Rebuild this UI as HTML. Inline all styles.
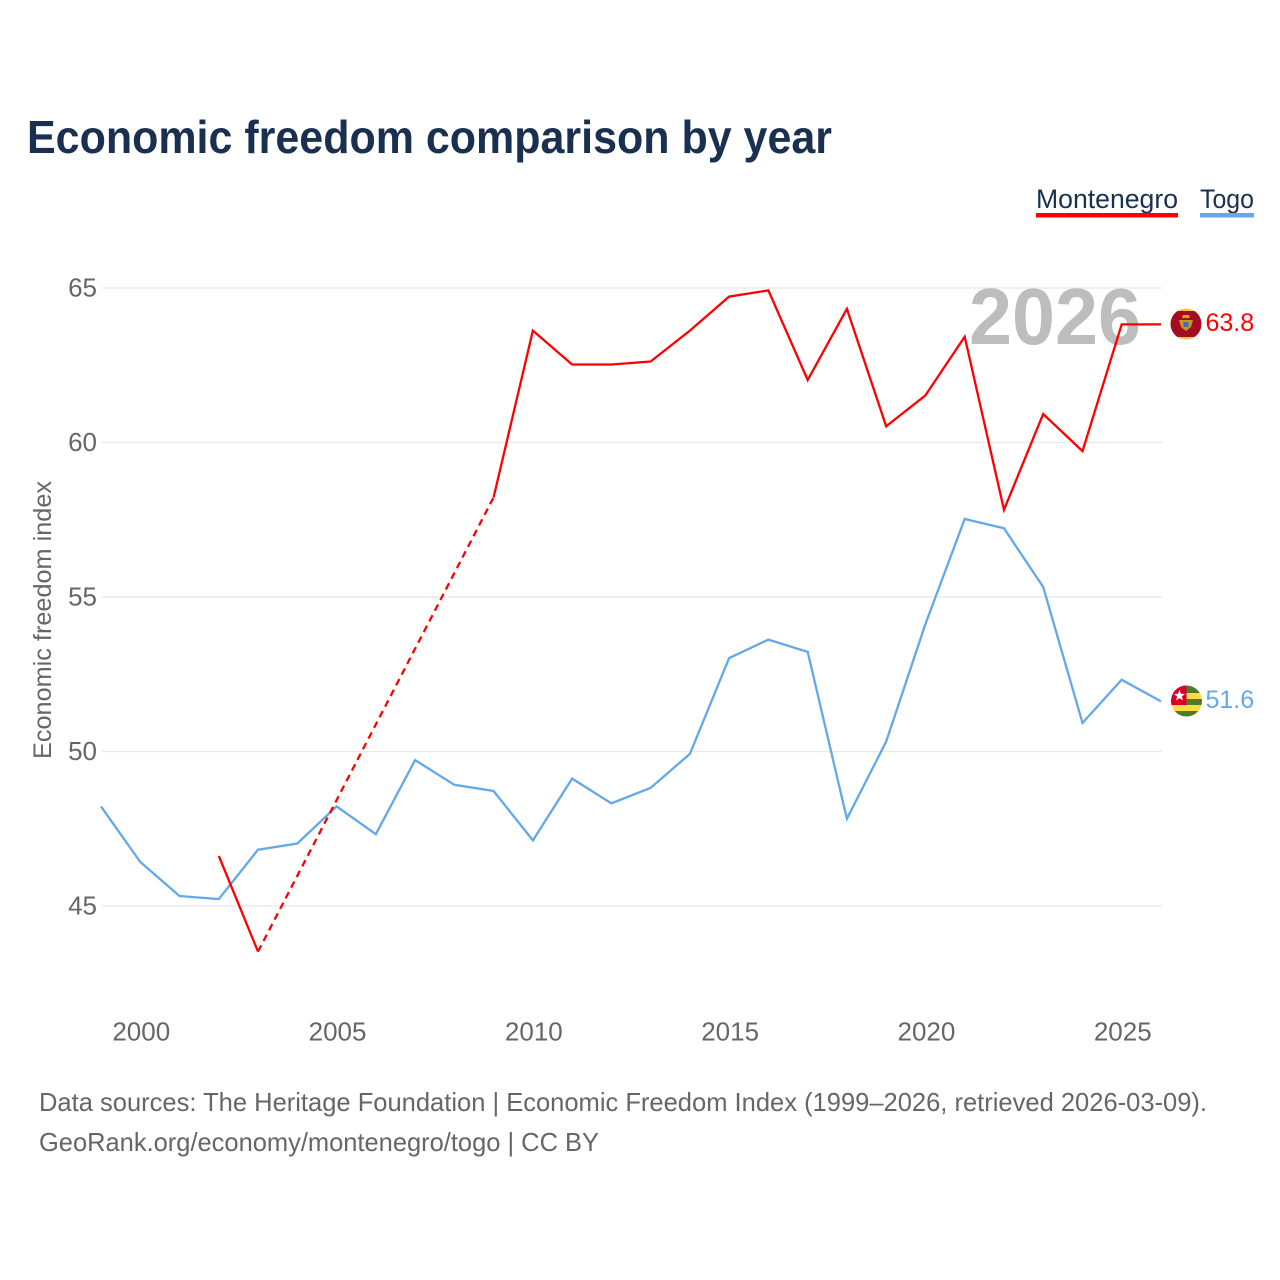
<!DOCTYPE html>
<html lang="en">
<head>
<meta charset="utf-8">
<title>Economic freedom comparison by year</title>
<style>
html,body{margin:0;padding:0;background:#fff;width:1280px;height:1280px;overflow:hidden}
svg{display:block;font-family:"Liberation Sans",sans-serif}
</style>
</head>
<body>
<svg id="chart" xmlns="http://www.w3.org/2000/svg" width="1280" height="1280" viewBox="0 0 1280 1280">
  <defs>
    <clipPath id="flag-clip-me"><circle cx="1186" cy="324" r="15.500"/></clipPath>
    <clipPath id="flag-clip-tg"><circle cx="1186.500" cy="701" r="15.500"/></clipPath>
  </defs>
  <rect width="1280" height="1280" fill="#fff"/>
  <text x="27" y="153" font-size="46" font-weight="700" fill="#1a3050" textLength="805" lengthAdjust="spacingAndGlyphs">Economic freedom comparison by year</text>

  <g>
    <g>
      <text x="1036" y="208" font-size="27" fill="#1a3050" textLength="142" lengthAdjust="spacingAndGlyphs">Montenegro</text>
      <rect x="1036" y="213" width="142" height="4.5" fill="#ff0000"/>
    </g>
    <g>
      <text x="1200" y="208" font-size="27" fill="#1a3050" textLength="54" lengthAdjust="spacingAndGlyphs">Togo</text>
      <rect x="1200" y="213" width="54" height="4.5" fill="#62a8ea"/>
    </g>
  </g>

  <g id="grid"></g>
  <g id="yticks"></g>
  <g id="xticks"></g>
  <text transform="translate(51,620) rotate(-90)" text-anchor="middle" font-size="25" fill="#666" textLength="278" lengthAdjust="spacingAndGlyphs">Economic freedom index</text>

  <text x="969" y="344" font-size="80" font-weight="700" fill="#bdbdbd" textLength="172" lengthAdjust="spacingAndGlyphs">2026</text>

  <g id="series"></g>

  <g clip-path="url(#flag-clip-me)">
    <rect x="1170" y="308" width="32" height="32" fill="#f5c842"/>
    <rect x="1170" y="311" width="32" height="26" fill="#a30d22"/>
    <path d="M1183 315h6l1 3h-8z" fill="#d9a520"/>
    <path d="M1179 320h14l-2 7-5 4-5-4z" fill="#c8951f"/>
    <rect x="1183.500" y="322" width="5" height="5" fill="#3f6fa8"/>
  </g>
  <g clip-path="url(#flag-clip-tg)">
    <rect x="1171" y="685" width="31" height="8" fill="#4f7a28"/>
    <rect x="1171" y="693" width="31" height="6" fill="#ffda44"/>
    <rect x="1171" y="699" width="31" height="6" fill="#4f7a28"/>
    <rect x="1171" y="705" width="31" height="6" fill="#ffda44"/>
    <rect x="1171" y="711" width="31" height="6" fill="#4f7a28"/>
    <rect x="1171" y="685" width="15.500" height="20" fill="#d80027"/>
    <path d="M1179.500 690l1.500 3.800 4 .2-3.100 2.500 1 3.900-3.400-2.200-3.400 2.200 1-3.900-3.100-2.500 4-.2z" fill="#fff"/>
  </g>

  <g id="endlabels"></g>

  <g>
    <text x="39" y="1111" font-size="26" fill="#666" textLength="1168" lengthAdjust="spacingAndGlyphs">Data sources: The Heritage Foundation | Economic Freedom Index (1999–2026, retrieved 2026-03-09).</text>
    <text x="39" y="1151" font-size="26" fill="#666" textLength="560" lengthAdjust="spacingAndGlyphs">GeoRank.org/economy/montenegro/togo | CC BY</text>
  </g>
</svg>

<script>
const years = [1999,2000,2001,2002,2003,2004,2005,2006,2007,2008,2009,2010,2011,2012,2013,2014,2015,2016,2017,2018,2019,2020,2021,2022,2023,2024,2025,2026];
const montenegroValues = [null,null,null,46.6,43.5,null,null,null,null,null,58.2,63.6,62.5,62.5,62.6,63.6,64.7,64.9,62.0,64.3,60.5,61.5,63.4,57.8,60.9,59.7,63.8,63.8];
const togoValues = [48.2,46.4,45.3,45.2,46.8,47.0,48.2,47.3,49.7,48.9,48.7,47.1,49.1,48.3,48.8,49.9,53.0,53.6,53.2,47.8,50.3,54.1,57.5,57.2,55.3,50.9,52.3,51.6];
const yTickValues = [45,50,55,60,65];
const xTickValues = [2000,2005,2010,2015,2020,2025];

const SVG_NS = 'http://www.w3.org/2000/svg';
function xScale(year){ return 101 + (year - 1999) * (1161 - 101) / 27; }
function yScale(value){ return 905.300 - (value - 45) * (905.300 - 287.300) / 20; }
function make(tag, attrs, parent){
  const el = document.createElementNS(SVG_NS, tag);
  for (const k in attrs) el.setAttribute(k, attrs[k]);
  parent.appendChild(el);
  return el;
}

const grid = document.getElementById('grid');
const yticks = document.getElementById('yticks');
const xticks = document.getElementById('xticks');
const seriesGroup = document.getElementById('series');
const endlabels = document.getElementById('endlabels');

yTickValues.forEach(function(v){
  const gy = yScale(v) + 0.700;
  const line = make('line', {x1:102, x2:1162, y1:gy, y2:gy, stroke:'#e8e8e8', 'stroke-width':1.3}, grid);
  
  
  const label = make('text', {x:97, y:gy+8.500, 'text-anchor':'end', 'font-size':26, fill:'#666'}, yticks);
  
  
  label.textContent = String(v);
});

xTickValues.forEach(function(v){
  const label = make('text', {x:xScale(v)+1, y:1040.500, 'text-anchor':'middle', 'font-size':26, fill:'#666'}, xticks);
  
  
  label.textContent = String(v);
});

function drawSeries(name, values, color){
  let solid = '';
  let dashed = '';
  let prev = null;
  values.forEach(function(v, i){
    if (v === null) return;
    const pt = xScale(years[i]).toFixed(1) + ' ' + yScale(v).toFixed(1);
    if (prev === null) {
      solid += 'M' + pt;
    } else if (prev === i - 1) {
      solid += 'L' + pt;
    } else {
      dashed += 'M' + xScale(years[prev]).toFixed(1) + ' ' + yScale(values[prev]).toFixed(1) + 'L' + pt;
      solid += 'M' + pt;
    }
    prev = i;
  });
  const gapLine = make('path', {d:dashed, fill:'none', stroke:color, 'stroke-width':2.300, 'stroke-dasharray':'7 5'}, seriesGroup);
  
  
  const mainLine = make('path', {d:solid, fill:'none', stroke:color, 'stroke-width':2.300, 'stroke-linejoin':'miter'}, seriesGroup);
  
  
  const last = values[values.length - 1];
  const label = make('text', {x:1205.500, y:yScale(last)+6.500, 'font-size':25, fill:color}, endlabels);
  
  
  label.textContent = last.toFixed(1);
}

drawSeries('togo', togoValues, '#62a8ea');
drawSeries('montenegro', montenegroValues, '#ff0000');
</script>
</body>
</html>
